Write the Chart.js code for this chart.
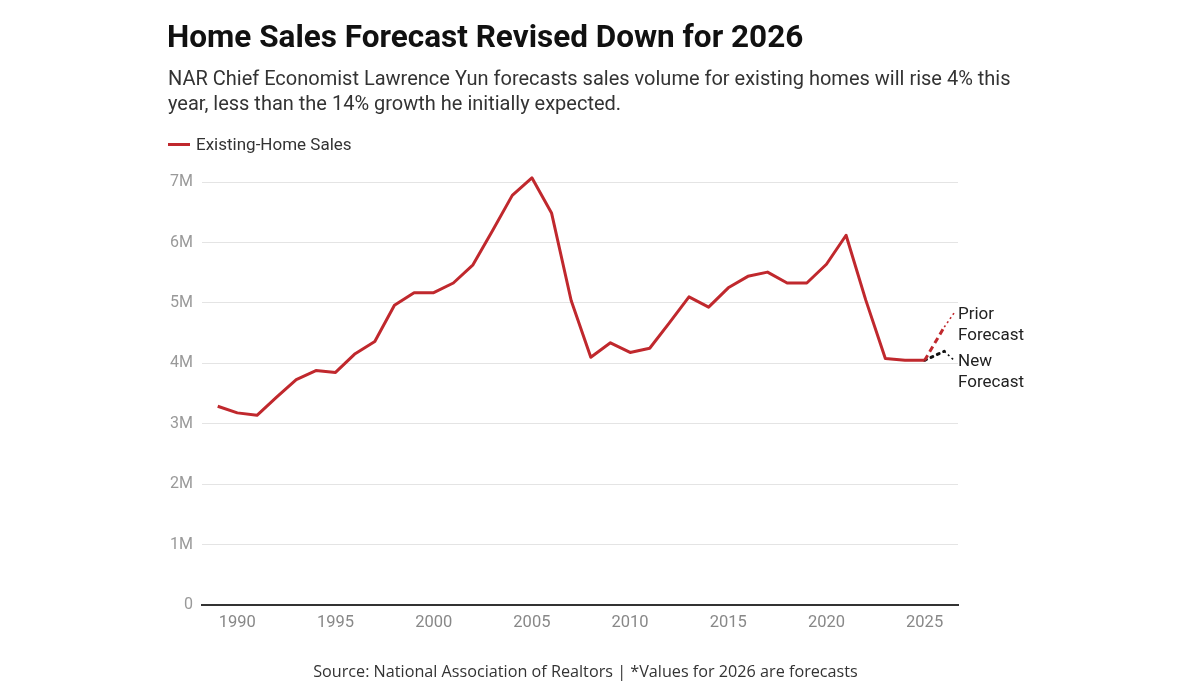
<!DOCTYPE html>
<html>
<head>
<meta charset="utf-8">
<script src="https://cdn.jsdelivr.net/npm/chart.js@4"></script>
<style>
  html,body{margin:0;padding:0;background:#fff;width:1200px;height:700px;overflow:hidden;}
  #wrap{position:relative;width:1200px;height:700px;}
  canvas{position:absolute;left:0;top:0;}
  .t{position:absolute;white-space:nowrap;}
  #title{left:167px;top:18px;font:700 31.5px Roboto,sans-serif;color:#111;}
  #sub{left:168px;top:66px;font:400 20px/25px Roboto,sans-serif;color:#333;}
  #leg{left:168px;top:134px;font:400 17px Roboto,sans-serif;color:#333;display:flex;align-items:center;}
  #leg span.sw{display:inline-block;width:22px;height:3px;background:#c0282d;margin-right:6px;}
  #src{left:0;width:1171px;text-align:center;top:660px;font:400 16.2px "Open Sans",sans-serif;color:#333;}
</style>
</head>
<body>
<div id="wrap">
  <canvas id="c" width="1200" height="700"></canvas>
  <div class="t" id="title">Home Sales Forecast Revised Down for 2026</div>
  <div class="t" id="sub">NAR Chief Economist Lawrence Yun forecasts sales volume for existing homes will rise 4% this<br>year, less than the 14% growth he initially expected.</div>
  <div class="t" id="leg"><span class="sw"></span>Existing-Home Sales</div>
  <div class="t" id="src">Source: National Association of Realtors | *Values for 2026 are forecasts</div>
</div>
<script>
// ---- data (millions of existing-home sales) ----
const years = [1989,1990,1991,1992,1993,1994,1995,1996,1997,1998,1999,2000,2001,2002,2003,2004,2005,2006,2007,2008,2009,2010,2011,2012,2013,2014,2015,2016,2017,2018,2019,2020,2021,2022,2023,2024,2025];
const sales = [3.29,3.18,3.14,3.44,3.73,3.88,3.85,4.16,4.36,4.96,5.17,5.17,5.33,5.63,6.20,6.78,7.07,6.49,5.04,4.10,4.34,4.18,4.25,4.67,5.10,4.93,5.25,5.44,5.51,5.33,5.33,5.64,6.12,5.05,4.08,4.05,4.05];
const forecastYears = [2025,2026];
const priorForecast = [4.05,4.60];
const newForecast = [4.05,4.20];
const xTickYears = [1990,1995,2000,2005,2010,2015,2020,2025];
const yTickValues = [0,1,2,3,4,5,6,7];
const forecastLabels = [["Prior","Forecast"],["New","Forecast"]];

const RED = '#c0282d';
const toXY = (xs, ys) => xs.map((x,i)=>({x:x,y:ys[i]}));

const labelPlugin = {
  id:'fcLabels',
  afterDatasetsDraw(chart){
    const ctx = chart.ctx;
    const lx = chart.chartArea.right;
    const specs = [
      {ds:1, color:RED, dy:-14, lines:forecastLabels[0], first:-12},
      {ds:2, color:'#111', dy:9, lines:forecastLabels[1], first:10}
    ];
    specs.forEach(s=>{
      const pt = chart.getDatasetMeta(s.ds).data[1];
      ctx.save();
      ctx.strokeStyle = s.color;
      ctx.lineWidth = 1.6;
      ctx.setLineDash([2,3]);
      ctx.beginPath();
      ctx.moveTo(pt.x, pt.y);
      ctx.lineTo(lx - 4, pt.y + s.dy);
      ctx.stroke();
      ctx.setLineDash([]);
      ctx.fillStyle = '#222';
      ctx.font = '400 17px Roboto, sans-serif';
      ctx.textBaseline = 'middle';
      ctx.textAlign = 'left';
      s.lines.forEach((t,i)=>ctx.fillText(t, lx, pt.y + s.first + i*21));
      ctx.restore();
    });
  }
};

new Chart(document.getElementById('c'), {
  type:'line',
  data:{
    datasets:[
      {label:'Existing-Home Sales', data:toXY(years,sales), borderColor:RED, borderWidth:3, pointRadius:0, tension:0, borderJoinStyle:'round'},
      {label:'Prior Forecast', data:toXY(forecastYears,priorForecast), borderColor:RED, borderWidth:3, borderDash:[6,4], pointRadius:0},
      {label:'New Forecast', data:toXY(forecastYears,newForecast), borderColor:'#111', borderWidth:3, borderDash:[2,5], borderCapStyle:'round', pointRadius:0}
    ]
  },
  options:{
    responsive:false, animation:false, devicePixelRatio:1,
    layout:{padding:{left:150,right:242,top:170,bottom:55}},
    plugins:{legend:{display:false}, tooltip:{enabled:false}},
    scales:{
      x:{
        type:'linear', min:1988.2, max:2026.7,
        afterBuildTicks:s=>{ s.ticks = xTickYears.map(v=>({value:v})); },
        afterFit:s=>{ s.height = 40; },
        grid:{display:false, drawTicks:false},
        border:{display:true, color:'#333', width:2},
        ticks:{color:'#888', font:{family:'Roboto', size:16.5}, padding:8, callback:v=>String(v), maxRotation:0}
      },
      y:{
        min:0, max:7.2,
        afterBuildTicks:s=>{ s.ticks = yTickValues.map(v=>({value:v})); },
        afterFit:s=>{ s.width = 52; },
        grid:{color:'#e4e4e4', lineWidth:1, drawTicks:false},
        border:{display:false},
        ticks:{color:'#999', font:{family:'Roboto', size:16}, padding:9, callback:v=> v===0 ? '0' : v+'M'}
      }
    }
  },
  plugins:[labelPlugin]
});
</script>
</body>
</html>
